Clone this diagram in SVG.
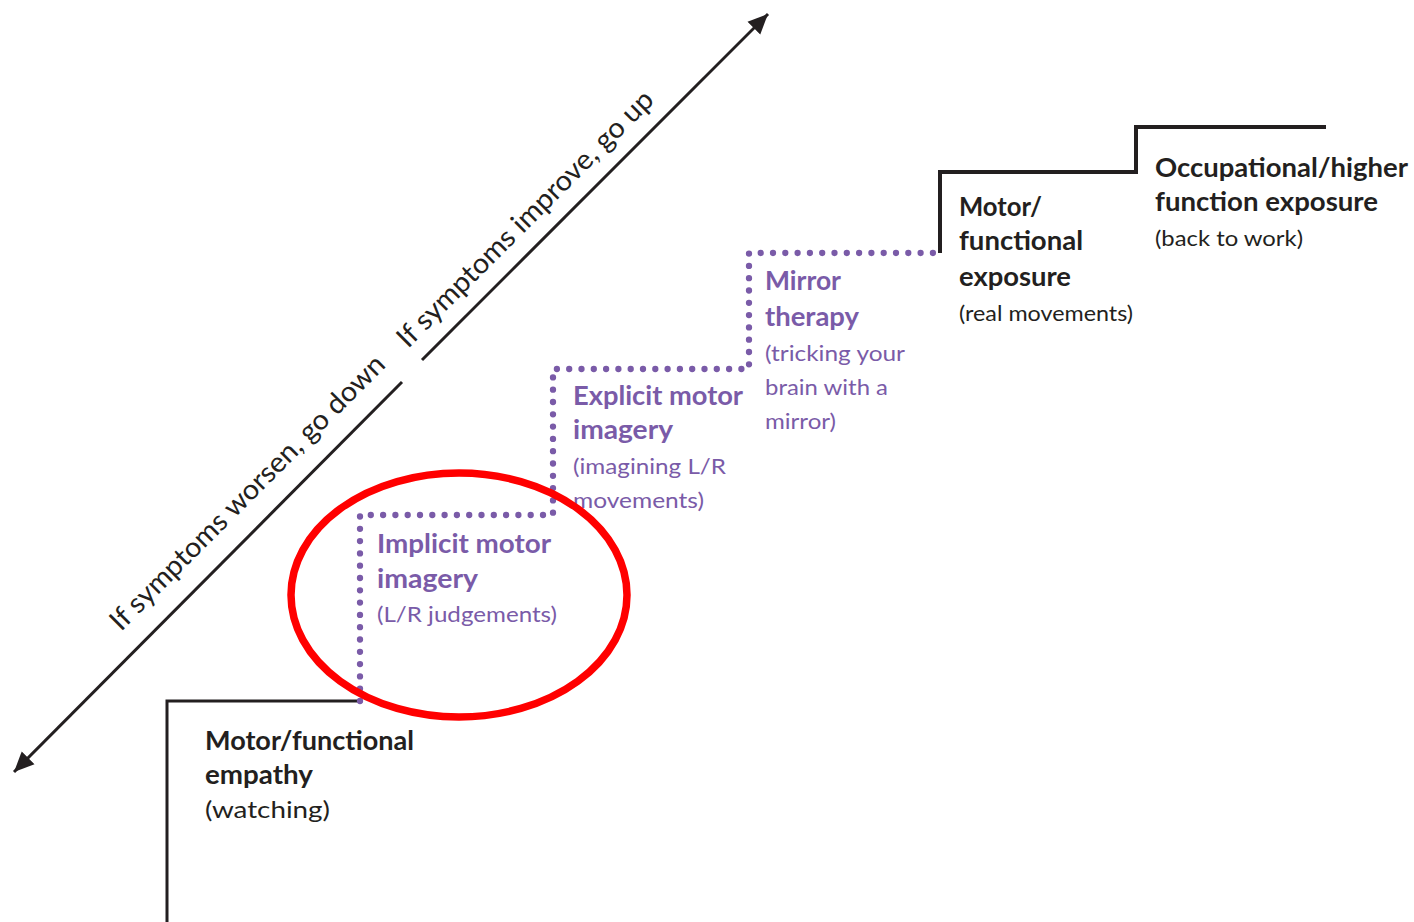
<svg xmlns="http://www.w3.org/2000/svg" width="1414" height="922" viewBox="0 0 1414 922">
<style>
.b{font-family:Lato,"Open Sans",sans-serif;font-weight:700;font-size:26px}
.r{font-family:Lato,"Open Sans",sans-serif;font-weight:400;font-size:22px}
.k{fill:#231f20}
.p{fill:#7a5ba8}
.step{fill:none;stroke:#231f20;stroke-linejoin:miter}
.dot{fill:none;stroke:#7a5ba8;stroke-width:6.3;stroke-linecap:round;stroke-dasharray:0 12.3}
.rot{font-family:Lato,"Open Sans",sans-serif;font-weight:400;font-size:28px;fill:#231f20}
</style>
<defs>
<marker id="ah2" viewBox="-20 -10 22 20" refX="0" refY="0" markerWidth="22" markerHeight="20" markerUnits="userSpaceOnUse" orient="auto">
<path d="M0,0 L-20,-9 L-20,9 Z" fill="#231f20"/>
</marker>
</defs>
<rect width="1414" height="922" fill="#ffffff"/>
<g id="connectors">
<line x1="422" y1="360" x2="768" y2="14" stroke="#231f20" stroke-width="3" marker-end="url(#ah2)"/>
<line x1="402" y1="382" x2="14" y2="772" stroke="#231f20" stroke-width="3" marker-end="url(#ah2)"/>
<path class="step" stroke-width="3" d="M167,922 V701 H360"/>
<path class="dot" d="M360,701 V515 H553 V369 H749 V253 H940"/>
<path class="step" stroke-width="4" d="M940,253 V172 H1136 V127 H1326"/>
</g>
<g id="label-up"><text class="rot" transform="translate(408,349) rotate(-45)" textLength="350" lengthAdjust="spacingAndGlyphs">If symptoms improve, go up</text></g>
<g id="label-down"><text class="rot" transform="translate(121,632) rotate(-45)" textLength="376" lengthAdjust="spacingAndGlyphs">If symptoms worsen, go down</text></g>
<g id="node-empathy">
<text class="b k" x="205" y="750" textLength="209" lengthAdjust="spacingAndGlyphs">Motor/functional</text>
<text class="b k" x="205" y="784" textLength="108" lengthAdjust="spacingAndGlyphs">empathy</text>
<text class="r k" x="205" y="818" textLength="125" lengthAdjust="spacingAndGlyphs" style="font-size:24px">(watching)</text>
</g>
<g id="node-implicit">
<text class="b p" x="377" y="553" textLength="174" lengthAdjust="spacingAndGlyphs">Implicit motor</text>
<text class="b p" x="377" y="588" textLength="101" lengthAdjust="spacingAndGlyphs">imagery</text>
<text class="r p" x="377" y="622" textLength="180" lengthAdjust="spacingAndGlyphs">(L/R judgements)</text>
</g>
<g id="node-explicit">
<text class="b p" x="573" y="405" textLength="170" lengthAdjust="spacingAndGlyphs">Explicit motor</text>
<text class="b p" x="573" y="439" textLength="100" lengthAdjust="spacingAndGlyphs">imagery</text>
<text class="r p" x="573" y="474" textLength="153" lengthAdjust="spacingAndGlyphs">(imagining L/R</text>
<text class="r p" x="573" y="508" textLength="131" lengthAdjust="spacingAndGlyphs">movements)</text>
</g>
<g id="node-mirror">
<text class="b p" x="765" y="290" textLength="76" lengthAdjust="spacingAndGlyphs">Mirror</text>
<text class="b p" x="765" y="326" textLength="94" lengthAdjust="spacingAndGlyphs">therapy</text>
<text class="r p" x="765" y="361" textLength="140" lengthAdjust="spacingAndGlyphs">(tricking your</text>
<text class="r p" x="765" y="395" textLength="123" lengthAdjust="spacingAndGlyphs">brain with a</text>
<text class="r p" x="765" y="429" textLength="71" lengthAdjust="spacingAndGlyphs">mirror)</text>
</g>
<g id="node-motor-exposure">
<text class="b k" x="959" y="216" textLength="83" lengthAdjust="spacingAndGlyphs">Motor/</text>
<text class="b k" x="959" y="250" textLength="124" lengthAdjust="spacingAndGlyphs">functional</text>
<text class="b k" x="959" y="286" textLength="112" lengthAdjust="spacingAndGlyphs">exposure</text>
<text class="r k" x="959" y="321" textLength="174" lengthAdjust="spacingAndGlyphs">(real movements)</text>
</g>
<g id="node-occupational">
<text class="b k" x="1155" y="177" textLength="253" lengthAdjust="spacingAndGlyphs">Occupational/higher</text>
<text class="b k" x="1155" y="211" textLength="223" lengthAdjust="spacingAndGlyphs">function exposure</text>
<text class="r k" x="1155" y="246" textLength="148" lengthAdjust="spacingAndGlyphs">(back to work)</text>
</g>
<g id="highlight"><ellipse cx="459" cy="595" rx="168" ry="122" fill="none" stroke="#ff0000" stroke-width="7.5"/></g>
</svg>
